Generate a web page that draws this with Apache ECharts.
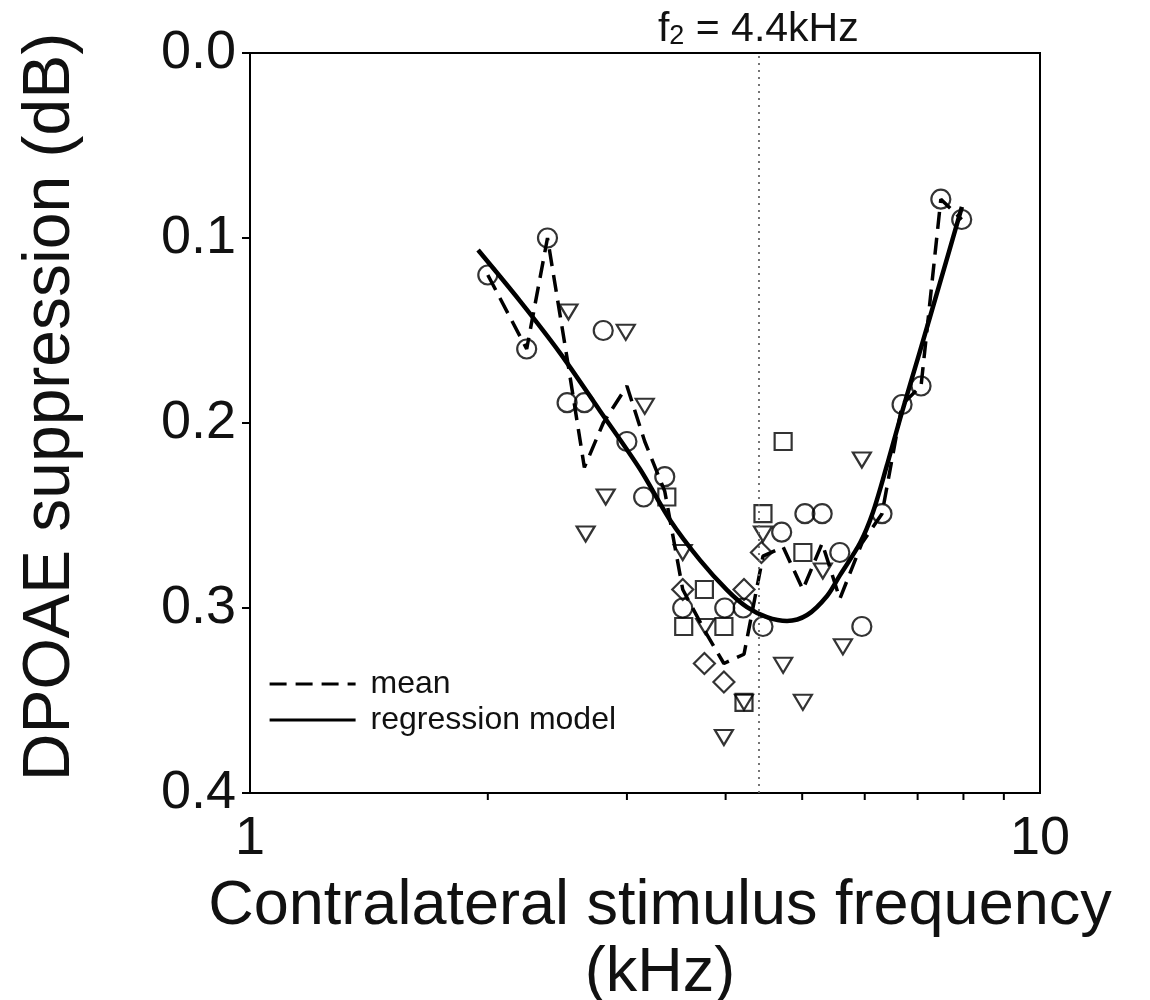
<!DOCTYPE html>
<html>
<head>
<meta charset="utf-8">
<script src="https://cdn.jsdelivr.net/npm/echarts@6/dist/echarts.min.js"></script>
<style>
html,body{margin:0;padding:0;background:#fff;}
#chart{width:1150px;height:1000px;}
</style>
</head>
<body>
<div id="chart"></div>
<script>
// ---- data ----
const circleX = [2.00, 2.24, 2.38, 2.52, 2.65, 2.80, 3.00, 3.15, 3.35, 3.53, 3.99, 4.21, 4.46, 4.71, 5.04, 5.30, 5.58, 5.95, 6.31, 6.69, 7.07, 7.49, 7.96];
const circleY = [0.120, 0.160, 0.100, 0.189, 0.189, 0.150, 0.210, 0.240, 0.229, 0.300, 0.300, 0.300, 0.310, 0.259, 0.249, 0.249, 0.270, 0.310, 0.249, 0.190, 0.180, 0.079, 0.090];

const triX = [2.53, 2.66, 2.82, 2.99, 3.16, 3.53, 3.77, 3.98, 4.22, 4.46, 4.73, 5.01, 5.31, 5.63, 5.95];
const triY = [0.140, 0.260, 0.240, 0.151, 0.191, 0.270, 0.310, 0.370, 0.351, 0.260, 0.331, 0.351, 0.280, 0.321, 0.220];

const squareX = [3.37, 3.54, 3.76, 3.98, 4.22, 4.46, 4.73, 5.01];
const squareY = [0.240, 0.310, 0.290, 0.310, 0.351, 0.249, 0.210, 0.270];

const diamondX = [3.53, 3.76, 3.98, 4.22, 4.44];
const diamondY = [0.290, 0.330, 0.340, 0.290, 0.270];

const meanX = [2.00, 2.24, 2.38, 2.52, 2.65, 2.80, 3.00, 3.16, 3.35, 3.53, 3.76, 3.98, 4.22, 4.46, 4.73, 5.01, 5.30, 5.58, 5.95, 6.31, 6.69, 7.07, 7.49, 7.96];
const meanY = [0.120, 0.160, 0.100, 0.165, 0.224, 0.200, 0.180, 0.210, 0.237, 0.290, 0.312, 0.330, 0.325, 0.272, 0.267, 0.290, 0.265, 0.295, 0.265, 0.249, 0.190, 0.180, 0.079, 0.090];

const modelX = [1.944, 2.197, 2.469, 2.774, 3.116, 3.401, 3.712, 4.017, 4.257, 4.512, 4.784, 5.072, 5.376, 5.583, 5.918, 6.147, 6.403, 6.650, 7.049, 7.470, 7.964];
const modelY = [0.1065, 0.1341, 0.1622, 0.1935, 0.2249, 0.2524, 0.2741, 0.2903, 0.2995, 0.3049, 0.3070, 0.3038, 0.2935, 0.2822, 0.2649, 0.2481, 0.2227, 0.1978, 0.1611, 0.1243, 0.0832];

const f2Value = 4.4;
const minorTickValues = [2, 3, 4, 5, 6, 7, 8, 9];
const xMin = 1, xMax = 10;
const yMin = 0, yMax = 0.4, yStep = 0.1;

// ---- chart ----
const zip = (xs, ys) => xs.map((x, i) => [x, ys[i]]);
const INK = '#000';
const FONT = 'Liberation Sans, Arial, sans-serif';

const chart = echarts.init(document.getElementById('chart'), null, {renderer: 'canvas'});

const markerBase = {
  type: 'scatter',
  itemStyle: {color: 'rgba(0,0,0,0)', borderColor: INK, borderWidth: 2.2},
  emphasis: {disabled: true},
  silent: true,
  z: 4
};

chart.setOption({
  animation: false,
  backgroundColor: '#fff',
  textStyle: {fontFamily: FONT, color: INK},
  grid: {left: 250, right: 110, top: 53, bottom: 207, containLabel: false, outerBoundsMode: 'none',
         show: true, borderColor: INK, borderWidth: 2, backgroundColor: 'transparent'},
  legend: {
    show: true,
    orient: 'vertical',
    left: 263,
    top: 663,
    itemWidth: 86,
    itemHeight: 20,
    itemGap: 4,
    data: ['mean', 'regression model'],
    itemStyle: {opacity: 0},
    lineStyle: {width: 3.2},
    textStyle: {fontSize: 32, color: '#111', fontFamily: FONT, padding: [0, 0, 0, 10]},
    selectedMode: false
  },
  xAxis: {
    type: 'log',
    logBase: 10,
    min: xMin,
    max: xMax,
    name: 'Contralateral stimulus frequency\n(kHz)',
    nameLocation: 'middle',
    nameGap: 80,
    nameTextStyle: {fontSize: 63, lineHeight: 67, color: '#111', fontFamily: FONT, padding: [0, 0, 0, 30]},
    axisLine: {show: true, lineStyle: {color: INK, width: 2}},
    axisTick: {show: true, inside: false, length: 12, lineStyle: {color: INK, width: 2}},
    axisLabel: {fontSize: 54, color: '#111', margin: 19, fontFamily: FONT},
    splitLine: {show: false},
    minorTick: {show: false}
  },
  yAxis: {
    type: 'value',
    inverse: true,
    min: yMin,
    max: yMax,
    interval: yStep,
    name: 'DPOAE suppression (dB)',
    nameLocation: 'middle',
    nameRotate: 90,
    nameGap: 166,
    nameTextStyle: {fontSize: 66, color: '#111', fontFamily: FONT, padding: [0, 0, 0, 32]},
    axisLine: {show: true, lineStyle: {color: INK, width: 2}},
    axisTick: {show: true, inside: false, length: 8, lineStyle: {color: INK, width: 2}},
    axisLabel: {fontSize: 54, color: '#111', margin: 14, fontFamily: FONT, formatter: v => v.toFixed(1)},
    splitLine: {show: false}
  },
  series: [
    {
      name: 'mean',
      type: 'line',
      data: zip(meanX, meanY),
      symbol: 'none',
      lineStyle: {color: INK, width: 3.5, type: [17, 9]},
      itemStyle: {color: INK},
      silent: true,
      z: 3
    },
    {
      name: 'regression model',
      type: 'line',
      data: zip(modelX, modelY),
      symbol: 'none',
      smooth: 0.3,
      lineStyle: {color: INK, width: 4.5},
      itemStyle: {color: INK},
      silent: true,
      z: 3,
      markLine: {
        silent: true,
        symbol: 'none',
        lineStyle: {color: '#666', width: 1.8, type: [2, 5]},
        label: {
          show: true,
          position: 'end',
          distance: 3,
          formatter: '{a|f}{b|2}{a| = 4.4kHz}',
          rich: {
            a: {fontSize: 41, color: '#111', fontFamily: FONT, verticalAlign: 'bottom'},
            b: {fontSize: 27, color: '#111', fontFamily: FONT, verticalAlign: 'bottom'}
          }
        },
        data: [[{coord: [f2Value, yMax]}, {coord: [f2Value, yMin]}]]
      }
    },
    Object.assign({}, markerBase, {name: 'circle', symbol: 'circle', symbolSize: 19, data: zip(circleX, circleY)}),
    Object.assign({}, markerBase, {name: 'triangle', symbol: 'triangle', symbolRotate: 180, symbolSize: [18, 15], data: zip(triX, triY)}),
    Object.assign({}, markerBase, {name: 'square', symbol: 'rect', symbolSize: 17, data: zip(squareX, squareY)}),
    Object.assign({}, markerBase, {name: 'diamond', symbol: 'diamond', symbolSize: [21, 21], data: zip(diamondX, diamondY)}),
    {
      name: 'minorTicks',
      type: 'custom',
      silent: true,
      clip: false,
      z: 5,
      data: minorTickValues.map(v => [v, yMax]),
      renderItem: function (params, api) {
        const p = api.coord([api.value(0), api.value(1)]);
        return {
          type: 'line',
          shape: {x1: p[0], y1: p[1], x2: p[0], y2: p[1] + 7},
          style: {stroke: INK, lineWidth: 2}
        };
      }
    }
  ]
});
</script>
</body>
</html>
